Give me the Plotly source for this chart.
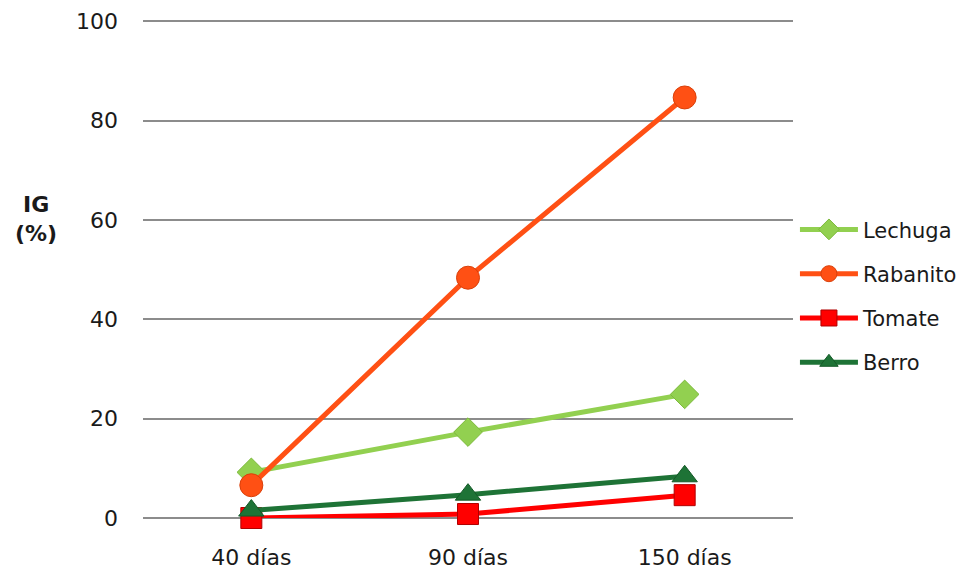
import plotly.graph_objects as go

categories = ["40 días", "90 días", "150 días"]
lechuga = [9.2, 17.3, 24.9]
rabanito = [6.6, 48.4, 84.7]
tomate = [0.0, 0.8, 4.6]
berro = [1.5, 4.7, 8.4]

series = [
    ("Lechuga", lechuga, "#92D050", "#7DBA3C", "diamond", 22),
    ("Rabanito", rabanito, "#FF5014", "#D9400A", "circle", 23),
    ("Tomate", tomate, "#FF0000", "#B00000", "square", 21),
    ("Berro", berro, "#1E7336", "#155A28", "triangle-up", 22),
]

fig = go.Figure()
for name, vals, col, edge, sym, sz in series:
    fig.add_trace(go.Scatter(
        x=categories, y=vals, name=name, mode="lines+markers", legendgroup=name,
        cliponaxis=False,
        line=dict(color=col, width=5),
        marker=dict(symbol=sym, size=sz, color=col, line=dict(color=edge, width=1)),
    ))

font = "Verdana, DejaVu Sans, sans-serif"
fig.update_layout(
    width=966, height=562,
    margin=dict(l=135, r=181, t=12, b=52, autoexpand=False),
    plot_bgcolor="white", paper_bgcolor="white",
    font=dict(family=font, size=22, color="#1a1a1a"),
    xaxis=dict(showgrid=False, showline=False, ticks="", tickfont=dict(size=22),
               range=[-0.5, 2.5], automargin=False, ticklabelstandoff=24),
    yaxis=dict(range=[0, 100.3], tickvals=[0, 20, 40, 60, 80, 100], showgrid=True,
               gridcolor="#8c8c8c", gridwidth=1.5, zeroline=True, zerolinecolor="#8c8c8c",
               zerolinewidth=1.5, showline=False, ticks="", ticklabelstandoff=24,
               tickfont=dict(size=22), automargin=False),
    legend=dict(x=1.003, y=0.62, xanchor="left", yanchor="top",
                font=dict(size=21), tracegroupgap=14, itemwidth=58,
                bgcolor="rgba(0,0,0,0)"),
    showlegend=True,
)
fig.add_annotation(text="<b>IG<br>(%)</b>", xref="paper", yref="paper",
                   x=-0.165, y=0.60, showarrow=False, xanchor="center", yanchor="middle",
                   font=dict(size=22, family=font, color="#1a1a1a"), align="center")
fig.write_html("out.html")
